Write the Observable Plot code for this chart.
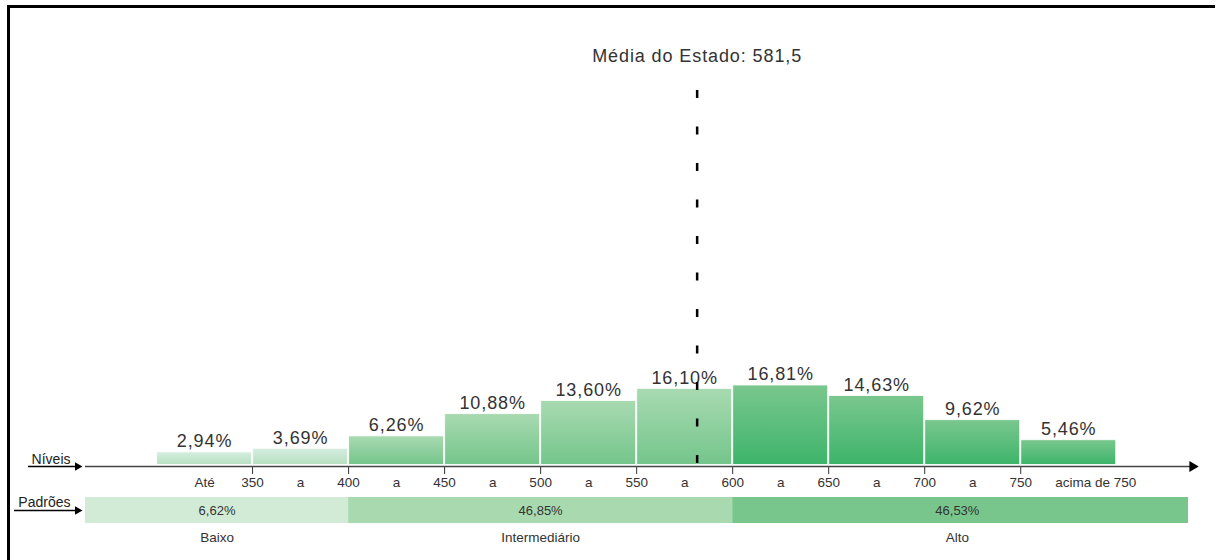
<!DOCTYPE html>
<html><head><meta charset="utf-8">
<script src="https://cdn.jsdelivr.net/npm/d3@7"></script>
<script src="https://cdn.jsdelivr.net/npm/@observablehq/plot@0.6"></script>
<style>
body{margin:0;background:#fff;}
#wrap{position:relative;width:1220px;height:560px;overflow:hidden;background:#fff;}
#main{position:absolute;left:0;top:0;}
#lower{position:absolute;left:0;top:490px;}
#frameTop{position:absolute;left:7px;top:5px;width:1208px;height:2.5px;background:#000;}
#frameLeft{position:absolute;left:7px;top:5px;width:2.5px;height:560px;background:#000;}
</style></head><body>
<div id="wrap"><div id="main"></div><div id="lower"></div><div id="frameTop"></div><div id="frameLeft"></div></div>
<script>
// ---- data ----
const levelStart = [300, 350, 400, 450, 500, 550, 600, 650, 700, 750];
const levelEnd   = [350, 400, 450, 500, 550, 600, 650, 700, 750, 800];
const levelPct   = [2.94, 3.69, 6.26, 10.88, 13.60, 16.10, 16.81, 14.63, 9.62, 5.46];
const levelGroup = ["Baixo","Baixo","Intermediário","Intermediário","Intermediário","Intermediário","Alto","Alto","Alto","Alto"];
const binWords   = ["Até","a","a","a","a","a","a","a","a","acima de 750"];
const tickValues = [350, 400, 450, 500, 550, 600, 650, 700, 750];
const stateMean = 581.5;
const meanLabel = "Média do Estado: 581,5";
const standards = ["Baixo","Intermediário","Alto"];
const standardPct = [6.62, 46.85, 46.53];
const standardCut = [400, 600];
const rowLabelTop = "Níveis";
const rowLabelBottom = "Padrões";

// ---- derived tables ----
const fmt = v => v.toFixed(2).replace(".", ",") + "%";
const levels = levelStart.map((s, i) => ({start: s, end: levelEnd[i], pct: levelPct[i], group: levelGroup[i], mid: (s + levelEnd[i]) / 2}));
const xDomain = [263, 841];
const segBounds = [xDomain[0], ...standardCut, xDomain[1]];
const segs = standards.map((s, i) => ({name: s, pct: standardPct[i], x1: segBounds[i], x2: segBounds[i + 1]}));
const rowWords = levels.map((d, i) => ({x: d.mid, text: binWords[i], last: i === levels.length - 1}));

const groupGrad = {
  "Baixo": ["#d5ede0", "#b7e0c0"],
  "Intermediário": ["#a9dab1", "#74c58b"],
  "Alto": ["#7ac78e", "#3db46a"]
};
const segColor = {"Baixo": "#d1ebd7", "Intermediário": "#a8d9af", "Alto": "#79c68c"};
const gradId = g => "grad-" + standards.indexOf(g);

const font = "'Liberation Sans', Arial, Helvetica, sans-serif";

const defs = () => {
  const d = d3.create("svg:defs");
  for (const g of standards) {
    const lg = d.append("linearGradient").attr("id", gradId(g)).attr("x1", 0).attr("x2", 0).attr("y1", 0).attr("y2", 1);
    lg.append("stop").attr("offset", "0%").attr("stop-color", groupGrad[g][0]);
    lg.append("stop").attr("offset", "100%").attr("stop-color", groupGrad[g][1]);
  }
  return d.node();
};

const main = Plot.plot({
  width: 1220, height: 490,
  marginLeft: 85, marginRight: 25, marginTop: 90, marginBottom: 24,
  style: {fontFamily: font, color: "#333", background: "transparent", overflow: "visible"},
  x: {domain: xDomain, axis: "bottom", ticks: tickValues, tickSize: 8, tickFormat: () => "", label: null},
  y: {domain: [0, 20], range: [466, 466 - 20 * 4.82], axis: null},
  marks: [
    defs,
    ...standards.map(g => Plot.rect(levels.filter(d => d.group === g), {
      x1: "start", x2: "end", y1: 0, y2: "pct",
      fill: `url(#${gradId(g)})`, stroke: "#ffffff", strokeOpacity: 0.85, strokeWidth: 1,
      insetLeft: 0.5, insetRight: 0.5, insetBottom: 1.5
    })),
    Plot.ruleY([0], {stroke: "#444", strokeWidth: 1.6}),
    Plot.dot([0], {x: () => xDomain[1], y: d => d, symbol: "triangle", rotate: 90, r: 4, fill: "#000", stroke: "none", dx: -3}),
    Plot.text(levels, {x: "mid", y: "pct", text: d => fmt(d.pct), lineAnchor: "bottom", dy: -5, fontSize: 18, fill: "#333"}),
    Plot.ruleX([stateMean], {stroke: "#000", strokeWidth: 2.5, strokeDasharray: "8,28.5"}),
    Plot.text([meanLabel], {x: () => stateMean, frameAnchor: "top", dy: -41, fontSize: 18, fill: "#333"}),
    Plot.text(rowWords.filter(d => !d.last), {x: "x", y: () => 0, text: "text", dy: 16, fontSize: 13.5, fill: "#333"}),
    Plot.text(rowWords.filter(d => d.last), {x: "x", y: () => 0, text: "text", dy: 16, dx: 27, fontSize: 13.5, fill: "#333"}),
    Plot.text(tickValues, {x: d => d, y: () => 0, text: d => String(d), dy: 16, fontSize: 13.5, fill: "#333"}),
    Plot.text([rowLabelTop], {x: () => xDomain[0], y: () => 0, textAnchor: "end", lineAnchor: "bottom", dx: -15, dy: -3, fontSize: 14, fill: "#222"}),
    Plot.ruleY([0], {x1: () => xDomain[0], x2: () => xDomain[0], insetLeft: -57, insetRight: 6, stroke: "#000", strokeWidth: 1.3}),
    Plot.dot([0], {x: () => xDomain[0], y: d => d, symbol: "triangle", rotate: 90, r: 3.2, fill: "#000", stroke: "none", dx: -8})
  ]
});
d3.select(main).selectAll("g[font-size='18'] text").style("letter-spacing", "0.9px");
document.getElementById("main").append(main);

const lower = Plot.plot({
  width: 1220, height: 70,
  marginLeft: 85, marginRight: 25, marginTop: 0, marginBottom: 0,
  style: {fontFamily: font, color: "#333", background: "transparent", overflow: "visible"},
  x: {domain: xDomain, axis: null},
  y: {domain: [0, 1], range: [33, 7], axis: null},
  marks: [
    Plot.rect(segs.filter(d => d.name !== "Alto"), {x1: "x1", x2: "x2", y1: 0, y2: 1, fill: d => segColor[d.name]}),
    Plot.rect(segs.filter(d => d.name === "Alto"), {x1: "x1", x2: "x2", y1: 0, y2: 1, fill: d => segColor[d.name], insetRight: 7}),
    Plot.text(segs, {x: d => (d.x1 + d.x2) / 2 - (d.name === "Alto" ? 3.5 : 0), y: () => 0.5, text: d => fmt(d.pct), fontSize: 13, fill: "#333"}),
    Plot.text(segs, {x: d => (d.x1 + d.x2) / 2 - (d.name === "Alto" ? 3.5 : 0), y: () => 0, text: "name", dy: 14, fontSize: 13.5, fill: "#333"}),
    Plot.text([rowLabelBottom], {x: () => xDomain[0], y: () => 0.5, textAnchor: "end", lineAnchor: "bottom", dx: -15, dy: -4, fontSize: 14, fill: "#222"}),
    Plot.ruleY([0.5], {x1: () => xDomain[0], x2: () => xDomain[0], insetLeft: -71, insetRight: 6, stroke: "#000", strokeWidth: 1.3}),
    Plot.dot([0.5], {x: () => xDomain[0], y: d => d, symbol: "triangle", rotate: 90, r: 3.2, fill: "#000", stroke: "none", dx: -8})
  ],
  color: {type: "identity"}
});
document.getElementById("lower").append(lower);
</script>
</body></html>
